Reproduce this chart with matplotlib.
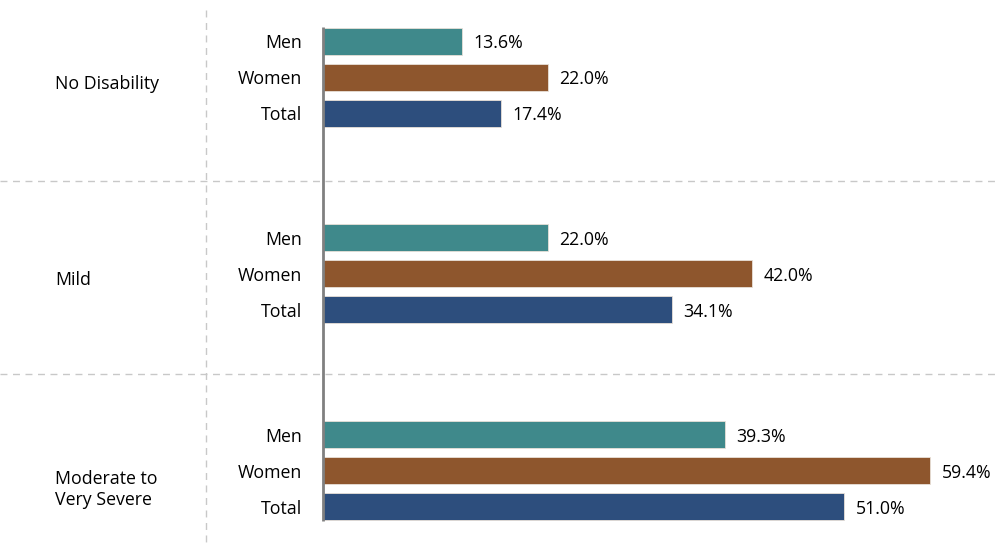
import matplotlib.pyplot as plt

plt.rcParams['font.family'] = ['Open Sans', 'DejaVu Sans']

groups = ['No Disability', 'Mild', 'Moderate to\nVery Severe']
series = ['Men', 'Women', 'Total']
men = [13.6, 22.0, 39.3]
women = [22.0, 42.0, 59.4]
total = [17.4, 34.1, 51.0]
colors = ['#3f898b', '#8e562d', '#2d4e7d']

values = [men, women, total]

fig = plt.figure(figsize=(10, 5.59), dpi=100)
ax = fig.add_axes([0.323, 0, 0.677, 1])

gap = 5.472
ax.set_xlim(0, 66.24)
ax.set_ylim(14.39, -1.14)

for g in range(len(groups)):
    for i, name in enumerate(series):
        y = g * gap + i
        v = values[i][g]
        ax.barh(y, v, height=0.75, color=colors[i], edgecolor='#e8e0d8', linewidth=0.6)
        ax.text(v + 1.15, y + 0.06, f'{v:.1f}%', va='center', ha='left', fontsize=12.8)
        ax.text(-2.05, y + 0.06, name, va='center', ha='right', fontsize=12.8)

# group labels
label_y = [1.2, 6.65, 12.47]
for g, name in enumerate(groups):
    ax.text(-26.2, label_y[g], name, va='center', ha='left', fontsize=12.8,
            linespacing=1.2, clip_on=False)

# axis line
ax.plot([0, 0], [-0.38, 2 * gap + 2.38], color='#808080', lw=2, solid_capstyle='butt',
        clip_on=False, zorder=3)

# dashed separators
for yy in [(181 - 41) / 36, (374.5 - 41) / 36]:
    ax.plot([-31.6, 66.24], [yy, yy], color='#c8c8c8', lw=1, ls=(0, (5, 4)), clip_on=False)
ax.plot([-11.4, -11.4], [(10 - 41) / 36, (547 - 41) / 36], color='#c8c8c8', lw=1,
        ls=(0, (5, 4)), clip_on=False)

ax.axis('off')
fig.savefig('out.png', dpi=100)
